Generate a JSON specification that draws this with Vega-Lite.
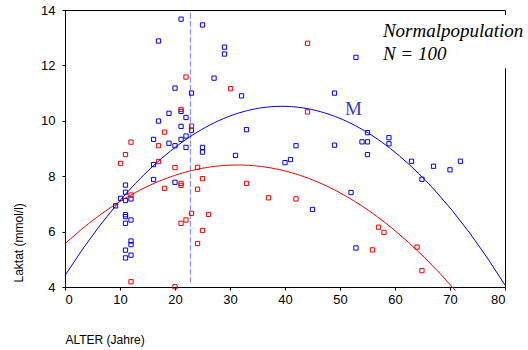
{
  "$schema": "https://vega.github.io/schema/vega-lite/v6.json",
  "autosize": {"type": "none"},
  "width": 440,
  "height": 277,
  "padding": {"left": 65, "top": 10, "right": 23, "bottom": 63},
  "background": "white",
  "config": {
    "view": {"stroke": "black", "strokeWidth": 1},
    "axis": {
      "grid": false,
      "labelFont": "Liberation Sans",
      "labelFontSize": 13,
      "labelColor": "black",
      "titleFont": "Liberation Sans",
      "titleFontSize": 12,
      "titleFontWeight": "normal",
      "titleColor": "black",
      "tickColor": "black",
      "tickSize": 3,
      "domainColor": "black"
    }
  },
  "datasets": {
    "pts": [
      {"alter": 21.1, "laktat": 13.67, "g": "m"},
      {"alter": 25.0, "laktat": 13.46, "g": "m"},
      {"alter": 17.0, "laktat": 12.88, "g": "m"},
      {"alter": 27.1, "laktat": 11.54, "g": "m"},
      {"alter": 20.0, "laktat": 11.18, "g": "m"},
      {"alter": 23.0, "laktat": 11.0, "g": "m"},
      {"alter": 21.1, "laktat": 10.34, "g": "m"},
      {"alter": 18.9, "laktat": 10.27, "g": "m"},
      {"alter": 22.0, "laktat": 10.12, "g": "m"},
      {"alter": 17.0, "laktat": 9.99, "g": "m"},
      {"alter": 21.1, "laktat": 9.80, "g": "m"},
      {"alter": 23.0, "laktat": 9.66, "g": "m"},
      {"alter": 22.0, "laktat": 9.45, "g": "m"},
      {"alter": 16.1, "laktat": 9.33, "g": "m"},
      {"alter": 21.1, "laktat": 9.33, "g": "m"},
      {"alter": 18.9, "laktat": 9.19, "g": "m"},
      {"alter": 20.0, "laktat": 9.10, "g": "m"},
      {"alter": 22.0, "laktat": 9.04, "g": "m"},
      {"alter": 25.0, "laktat": 9.04, "g": "m"},
      {"alter": 25.0, "laktat": 8.87, "g": "m"},
      {"alter": 16.1, "laktat": 8.42, "g": "m"},
      {"alter": 16.1, "laktat": 7.88, "g": "m"},
      {"alter": 20.0, "laktat": 7.78, "g": "m"},
      {"alter": 11.0, "laktat": 7.68, "g": "m"},
      {"alter": 11.0, "laktat": 7.42, "g": "m"},
      {"alter": 12.0, "laktat": 7.18, "g": "m"},
      {"alter": 10.1, "laktat": 7.20, "g": "m"},
      {"alter": 11.0, "laktat": 7.12, "g": "m"},
      {"alter": 9.2, "laktat": 6.93, "g": "m"},
      {"alter": 11.0, "laktat": 6.61, "g": "m"},
      {"alter": 11.0, "laktat": 6.54, "g": "m"},
      {"alter": 12.0, "laktat": 6.42, "g": "m"},
      {"alter": 11.0, "laktat": 6.30, "g": "m"},
      {"alter": 12.0, "laktat": 5.66, "g": "m"},
      {"alter": 12.0, "laktat": 5.53, "g": "m"},
      {"alter": 11.0, "laktat": 5.33, "g": "m"},
      {"alter": 12.0, "laktat": 5.15, "g": "m"},
      {"alter": 11.0, "laktat": 5.05, "g": "m"},
      {"alter": 29.0, "laktat": 12.66, "g": "m"},
      {"alter": 29.0, "laktat": 12.41, "g": "m"},
      {"alter": 52.9, "laktat": 12.29, "g": "m"},
      {"alter": 32.1, "laktat": 10.90, "g": "m"},
      {"alter": 49.0, "laktat": 11.0, "g": "m"},
      {"alter": 33.0, "laktat": 9.68, "g": "m"},
      {"alter": 42.0, "laktat": 9.10, "g": "m"},
      {"alter": 49.0, "laktat": 9.12, "g": "m"},
      {"alter": 54.0, "laktat": 9.24, "g": "m"},
      {"alter": 55.0, "laktat": 9.24, "g": "m"},
      {"alter": 55.0, "laktat": 9.57, "g": "m"},
      {"alter": 31.0, "laktat": 8.75, "g": "m"},
      {"alter": 40.0, "laktat": 8.49, "g": "m"},
      {"alter": 41.0, "laktat": 8.60, "g": "m"},
      {"alter": 55.0, "laktat": 8.78, "g": "m"},
      {"alter": 45.0, "laktat": 6.80, "g": "m"},
      {"alter": 52.0, "laktat": 7.41, "g": "m"},
      {"alter": 52.9, "laktat": 5.41, "g": "m"},
      {"alter": 58.9, "laktat": 9.39, "g": "m"},
      {"alter": 58.9, "laktat": 9.17, "g": "m"},
      {"alter": 63.0, "laktat": 8.54, "g": "m"},
      {"alter": 67.0, "laktat": 8.36, "g": "m"},
      {"alter": 70.0, "laktat": 8.23, "g": "m"},
      {"alter": 71.9, "laktat": 8.54, "g": "m"},
      {"alter": 64.9, "laktat": 7.89, "g": "m"},
      {"alter": 22.0, "laktat": 11.58, "g": "w"},
      {"alter": 21.1, "laktat": 10.41, "g": "w"},
      {"alter": 23.0, "laktat": 9.81, "g": "w"},
      {"alter": 18.1, "laktat": 9.59, "g": "w"},
      {"alter": 12.0, "laktat": 9.23, "g": "w"},
      {"alter": 17.0, "laktat": 9.10, "g": "w"},
      {"alter": 11.0, "laktat": 8.78, "g": "w"},
      {"alter": 10.1, "laktat": 8.46, "g": "w"},
      {"alter": 17.0, "laktat": 8.53, "g": "w"},
      {"alter": 20.0, "laktat": 8.31, "g": "w"},
      {"alter": 24.1, "laktat": 8.32, "g": "w"},
      {"alter": 25.0, "laktat": 7.91, "g": "w"},
      {"alter": 21.1, "laktat": 7.74, "g": "w"},
      {"alter": 21.1, "laktat": 7.67, "g": "w"},
      {"alter": 18.1, "laktat": 7.56, "g": "w"},
      {"alter": 24.1, "laktat": 7.53, "g": "w"},
      {"alter": 12.0, "laktat": 7.32, "g": "w"},
      {"alter": 23.0, "laktat": 6.66, "g": "w"},
      {"alter": 26.1, "laktat": 6.62, "g": "w"},
      {"alter": 22.0, "laktat": 6.42, "g": "w"},
      {"alter": 21.1, "laktat": 6.30, "g": "w"},
      {"alter": 25.0, "laktat": 6.04, "g": "w"},
      {"alter": 24.1, "laktat": 5.57, "g": "w"},
      {"alter": 12.0, "laktat": 4.19, "g": "w"},
      {"alter": 20.0, "laktat": 4.01, "g": "w"},
      {"alter": 44.1, "laktat": 12.80, "g": "w"},
      {"alter": 30.1, "laktat": 11.16, "g": "w"},
      {"alter": 44.1, "laktat": 10.32, "g": "w"},
      {"alter": 33.0, "laktat": 7.74, "g": "w"},
      {"alter": 37.0, "laktat": 7.22, "g": "w"},
      {"alter": 42.0, "laktat": 7.18, "g": "w"},
      {"alter": 57.0, "laktat": 6.16, "g": "w"},
      {"alter": 58.0, "laktat": 5.97, "g": "w"},
      {"alter": 55.9, "laktat": 5.34, "g": "w"},
      {"alter": 64.0, "laktat": 5.44, "g": "w"},
      {"alter": 64.9, "laktat": 4.59, "g": "w"}
    ]
  },
  "layer": [
    {
      "data": {"values": [{"x": 22.8, "y": 13.9, "y2": 4.1}]},
      "mark": {"type": "rule", "color": "#8080ff", "strokeWidth": 1, "strokeDash": [6, 2]},
      "encoding": {
        "x": {"field": "x", "type": "quantitative"},
        "y": {"field": "y", "type": "quantitative"},
        "y2": {"field": "y2"}
      }
    },
    {
      "data": {"name": "pts"},
      "mark": {"type": "square", "filled": false, "size": 18, "strokeWidth": 1, "opacity": 1},
      "encoding": {
        "x": {"field": "alter", "type": "quantitative", "scale": {"domain": [0, 80], "nice": false, "zero": false},
          "axis": {"values": [0, 10, 20, 30, 40, 50, 60, 70, 80], "title": "ALTER (Jahre)", "titleAnchor": "start", "titleAlign": "left", "titleX": 0, "titleY": 47, "titleBaseline": "top", "labelPadding": 3}},
        "y": {"field": "laktat", "type": "quantitative", "scale": {"domain": [4, 14], "nice": false, "zero": false},
          "axis": {"values": [4, 6, 8, 10, 12, 14], "title": "Laktat (mmol/l)", "titleAlign": "left", "titleX": -47, "titleY": 272, "titleAngle": -90, "titleBaseline": "middle", "labelPadding": 7}},
        "color": {"field": "g", "type": "nominal", "scale": {"domain": ["m", "w"], "range": ["#0000ee", "#ee0000"]}, "legend": null}
      }
    },
    {
      "data": {"name": "pts"},
      "transform": [
        {"filter": "datum.g === 'm'"},
        {"regression": "laktat", "on": "alter", "method": "poly", "order": 2, "extent": [0, 80]}
      ],
      "mark": {"type": "line", "color": "#0000ee", "strokeWidth": 1},
      "encoding": {
        "x": {"field": "alter", "type": "quantitative"},
        "y": {"field": "laktat", "type": "quantitative"}
      }
    },
    {
      "data": {"name": "pts"},
      "transform": [
        {"filter": "datum.g === 'w'"},
        {"regression": "laktat", "on": "alter", "method": "poly", "order": 2, "extent": [0, 71]}
      ],
      "mark": {"type": "line", "color": "#ee0000", "strokeWidth": 1},
      "encoding": {
        "x": {"field": "alter", "type": "quantitative"},
        "y": {"field": "laktat", "type": "quantitative"}
      }
    },
    {
      "data": {"values": [{"x": 78, "x2": 86, "y": 13.82, "y2": 11.9}]},
      "mark": {"type": "rect", "color": "white", "clip": false},
      "encoding": {
        "x": {"field": "x", "type": "quantitative"},
        "x2": {"field": "x2"},
        "y": {"field": "y", "type": "quantitative"},
        "y2": {"field": "y2"}
      }
    },
    {
      "data": {"values": [
        {"x": 57.8, "y": 13.02, "t": "Normalpopulation"},
        {"x": 57.8, "y": 12.19, "t": "N = 100"}
      ]},
      "mark": {"type": "text", "align": "left", "baseline": "alphabetic", "font": "Liberation Serif", "fontStyle": "italic", "fontSize": 19, "color": "black", "clip": false},
      "encoding": {
        "x": {"field": "x", "type": "quantitative"},
        "y": {"field": "y", "type": "quantitative"},
        "text": {"field": "t"}
      }
    },
    {
      "data": {"values": [{"x": 50.9, "y": 10.2, "t": "M"}]},
      "mark": {"type": "text", "align": "left", "baseline": "alphabetic", "font": "Liberation Serif", "fontSize": 19, "color": "#3a3acc"},
      "encoding": {
        "x": {"field": "x", "type": "quantitative"},
        "y": {"field": "y", "type": "quantitative"},
        "text": {"field": "t"}
      }
    }
  ]
}
